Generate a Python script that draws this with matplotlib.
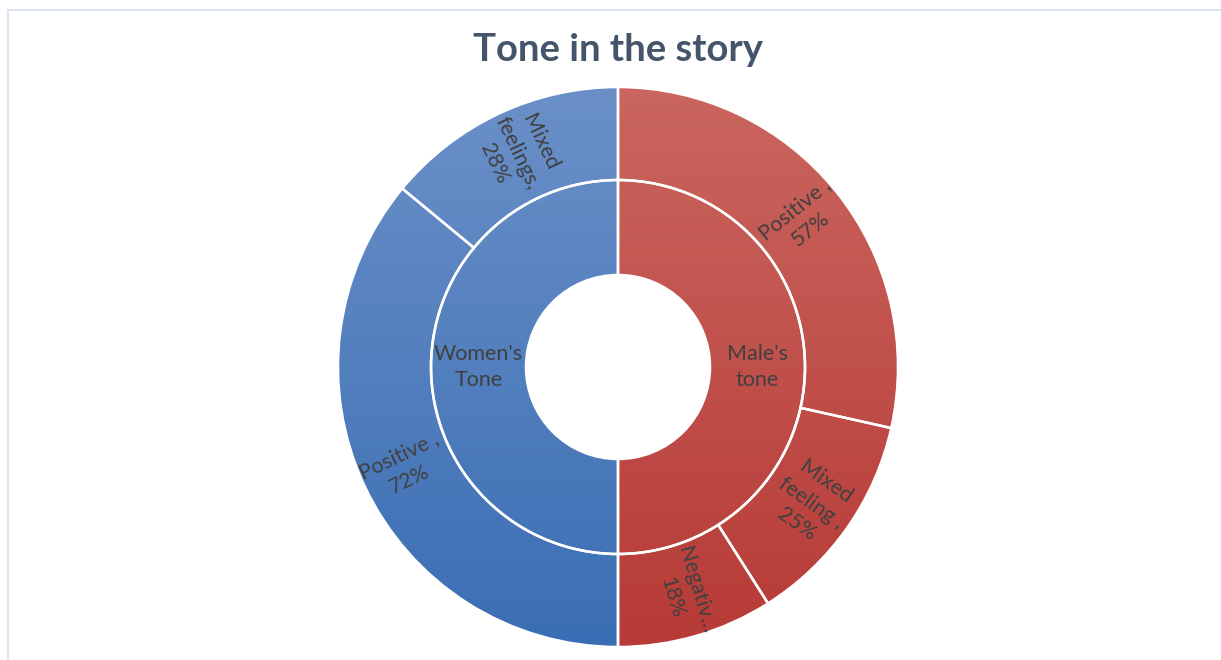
import numpy as np
import matplotlib.pyplot as plt
from matplotlib.patches import Wedge, Rectangle
from matplotlib.colors import LinearSegmentedColormap

plt.rcParams['font.family'] = ['Lato', 'DejaVu Sans']

# inner ring: groups (clockwise from top)
groups = ["Male's\ntone", "Women's\nTone"]
group_share = [50, 50]

# outer ring: items of each group (clockwise from top), percent within group
male_labels = ["Positive ,\n57%", "Mixed\nfeeling ,\n25%", "Negativ...\n18%"]
male_values = [57, 25, 18]
women_labels = ["Positive ,\n72%", "Mixed\nfeelings,\n28%"]
women_values = [72, 28]

title = "Tone in the story"

red_grad = LinearSegmentedColormap.from_list("red", ["#b73a36", "#ca665f"])
blue_grad = LinearSegmentedColormap.from_list("blue", ["#3a6eb4", "#6b90c8"])

W, H = 1221, 660
fig = plt.figure(figsize=(W / 100, H / 100), dpi=100)
ax = fig.add_axes([0, 0, 1, 1])
ax.set_xlim(0, W)
ax.set_ylim(0, H)
ax.axis('off')

cx, cy = 618, H - 367
r_out, r_mid, r_hole = 280, 187, 92
grad = np.linspace(0, 1, 256).reshape(-1, 1)
extent = [cx - r_out, cx + r_out, cy - r_out, cy + r_out]
label_size = 15.5


def ring_piece(t1, t2, r, width, cmap):
    w = Wedge((cx, cy), r, t1, t2, width=width, facecolor='none',
              edgecolor='white', linewidth=1.8)
    ax.add_patch(w)
    im = ax.imshow(grad, extent=extent, origin='lower', cmap=cmap,
                   aspect='auto', zorder=0)
    im.set_clip_path(w)


def radial_text(angle, r, txt):
    a = np.deg2rad(angle)
    x, y = cx + r * np.cos(a), cy + r * np.sin(a)
    rot = (angle + 180) % 360 - 180
    if rot > 90:
        rot -= 180
    elif rot <= -90:
        rot += 180
    ax.text(x, y, txt, rotation=rot, rotation_mode='anchor', ha='center',
            va='center', fontsize=label_size, color='#404040', linespacing=1.35)


# inner ring
cmaps = [red_grad, blue_grad]
start = 0.0
for g, share, cm in zip(groups, group_share, cmaps):
    span = share / sum(group_share) * 360
    ring_piece(90 - start - span, 90 - start, r_mid, r_mid - r_hole, cm)
    mid = 90 - start - span / 2
    rr = (r_mid + r_hole) / 2
    ax.text(cx + rr * np.cos(np.deg2rad(mid)), cy + rr * np.sin(np.deg2rad(mid)),
            g, ha='center', va='center', fontsize=label_size, color='#404040',
            linespacing=1.35)
    start += span

# outer ring
start = 0.0
for labels, values, share, cm in [(male_labels, male_values, group_share[0], red_grad),
                                  (women_labels, women_values, group_share[1], blue_grad)]:
    gspan = share / sum(group_share) * 360
    for lab, v in zip(labels, values):
        span = v / sum(values) * gspan
        ring_piece(90 - start - span, 90 - start, r_out, r_out - r_mid, cm)
        radial_text(90 - start - span / 2, (r_out + r_mid) / 2 + 3, lab)
        start += span

ax.text(cx, H - 50, title, ha='center', va='center', fontsize=27.5,
        fontweight='bold', color='#44546a')

# chart frame
ax.add_patch(Rectangle((8, -20), W, H - 10 + 20, facecolor='none',
                       edgecolor='#d6e0ec', linewidth=1.2))

fig.savefig('out.png', dpi=100)
